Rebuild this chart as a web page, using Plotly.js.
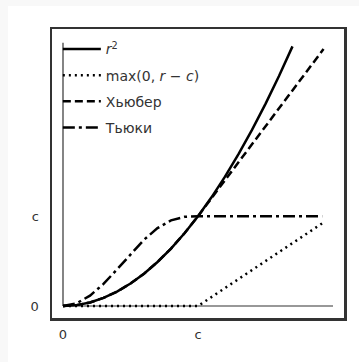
<!DOCTYPE html>
<html>
<head>
<meta charset="utf-8">
<script src="https://cdn.plot.ly/plotly-3.0.1.min.js"></script>
<style>
  html, body { margin: 0; padding: 0; background: #f8f8f8; width: 359px; height: 362px; overflow: hidden; }
  #card { position: absolute; left: 8px; top: 6px; width: 351px; height: 356px; background: #ffffff; }
</style>
</head>
<body>
<div id="card"></div>
<script>
// Residual values r (in units of c) and loss values
const rSq = [0, 0.1, 0.2, 0.3, 0.4, 0.5, 0.6, 0.7, 0.8, 0.9, 1.0, 1.1, 1.2, 1.3, 1.4, 1.5, 1.6, 1.7];
const ySq = [0, 0.01, 0.04, 0.09, 0.16, 0.25, 0.36, 0.49, 0.64, 0.81, 1.0, 1.21, 1.44, 1.69, 1.96, 2.25, 2.56, 2.89];

const rHinge = [0, 1.0, 1.92];
const yHinge = [0, 0, 0.92];

const rHuber = [0, 0.1, 0.2, 0.3, 0.4, 0.5, 0.6, 0.7, 0.8, 0.9, 1.0, 1.93];
const yHuber = [0, 0.01, 0.04, 0.09, 0.16, 0.25, 0.36, 0.49, 0.64, 0.81, 1.0, 2.86];

const rTukey = [0, 0.1, 0.2, 0.3, 0.4, 0.5, 0.6, 0.7, 0.8, 0.9, 1.0, 1.92];
const yTukey = [0, 0.03, 0.115, 0.246, 0.407, 0.578, 0.738, 0.867, 0.953, 0.993, 1.0, 1.0];

const seriesNames = ['<i>r</i><sup>2</sup>', 'max(0, <i>r</i> − <i>c</i>)', 'Хьюбер', 'Тьюки'];
const tickVals = [0, 1];
const tickText = ['0', 'c'];
// extents of the inner axis lines (data units)
const axisLineX = [0, 2.0];
const axisLineY = [0, 2.93];

const lw = 2.5;
const traces = [
  {x: rSq, y: ySq, name: seriesNames[0], legendgroup: 'a', mode: 'lines',
   line: {color: '#000', width: lw, dash: 'solid'}},
  {x: rHinge, y: yHinge, name: seriesNames[1], legendgroup: 'b', mode: 'lines',
   line: {color: '#000', width: lw, dash: '2px,4px'}},
  {x: rHuber, y: yHuber, name: seriesNames[2], legendgroup: 'c', mode: 'lines',
   line: {color: '#000', width: lw, dash: '8px,4px'}},
  {x: rTukey, y: yTukey, name: seriesNames[3], legendgroup: 'd', mode: 'lines',
   line: {color: '#000', width: lw, dash: '12px,4px,3px,4px'}}
];

const layout = {
  width: 351, height: 356,
  margin: {l: 44, r: 15, t: 22.5, b: 44, pad: 0},
  paper_bgcolor: '#ffffff', plot_bgcolor: '#ffffff',
  font: {family: 'DejaVu Sans', size: 13, color: '#333'},
  showlegend: true,
  legend: {x: 0.02, y: 0.985, xanchor: 'left', yanchor: 'top', bgcolor: 'rgba(0,0,0,0)',
           font: {family: 'DejaVu Sans', size: 14, color: '#333'}, tracegroupgap: 5, itemwidth: 38},
  xaxis: {range: [-0.0815, 2.0815], tickvals: tickVals, ticktext: tickText, ticks: '',
          showgrid: false, zeroline: false, showline: true, mirror: true, linecolor: '#333', linewidth: 2.5,
          ticklabelstandoff: 3, tickfont: {family: 'DejaVu Sans', size: 13, color: '#333'}, fixedrange: true},
  yaxis: {range: [-0.1333, 3.0833], tickvals: tickVals, ticktext: tickText, ticks: '',
          showgrid: false, zeroline: false, showline: true, mirror: true, linecolor: '#333', linewidth: 2.5,
          ticklabelstandoff: 8, tickfont: {family: 'DejaVu Sans', size: 13, color: '#333'}, fixedrange: true},
  shapes: [
    {type: 'line', xref: 'x', yref: 'y', x0: axisLineX[0], x1: axisLineX[1], y0: 0, y1: 0,
     line: {color: '#333', width: 1.2}, layer: 'below'},
    {type: 'line', xref: 'x', yref: 'y', x0: 0, x1: 0, y0: axisLineY[0], y1: axisLineY[1],
     line: {color: '#333', width: 1.2}, layer: 'below'}
  ]
};

Plotly.newPlot('card', traces, layout, {displayModeBar: false, staticPlot: true});
</script>
</body>
</html>
